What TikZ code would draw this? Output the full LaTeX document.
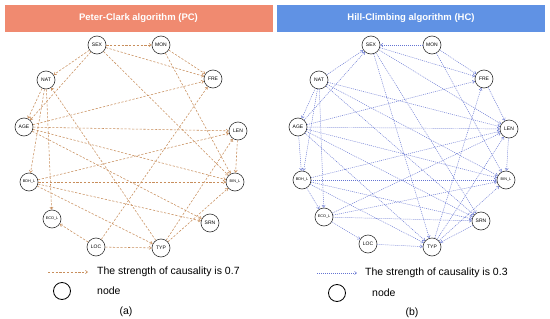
\documentclass[tikz,border=0pt]{standalone}
\usepackage{fontspec}
\setmainfont{Liberation Sans}
\usetikzlibrary{arrows.meta}
\definecolor{pchead}{RGB}{240,138,112}
\definecolor{hchead}{RGB}{96,146,228}
\definecolor{pcline}{RGB}{200,142,92}
\definecolor{hcline}{RGB}{100,116,210}
\tikzset{
  var/.style={circle,draw=black!80,line width=0.6pt,minimum size=18pt,inner sep=0pt,
              fill=white,font=\fontsize{5}{6}\selectfont},
  smallvar/.style={var,font=\fontsize{3.8}{4.5}\selectfont},
  header/.style={minimum width=268pt,minimum height=27pt,inner sep=0pt,text=white,
                 font=\fontsize{9.5}{11}\selectfont\bfseries},
  pc/.style={-{Straight Barb[length=2.2pt,width=3.2pt]},pcline,line width=0.55pt,
             dash pattern=on 2.2pt off 1.6pt},
  hc/.style={-{Straight Barb[length=2.2pt,width=3.2pt]},hcline,line width=0.45pt,
             dash pattern=on 1pt off 1pt},
  legnode/.style={circle,draw=black,line width=0.8pt,minimum size=17pt,inner sep=0pt},
  legtext/.style={anchor=west,inner sep=0pt,font=\fontsize{10.5}{12}\selectfont},
}
\begin{document}
\begin{tikzpicture}[x=1pt,y=-1pt]
  \useasboundingbox[fill=white] (0,0) rectangle (550,319);
  % Title bars
  \node[header,fill=pchead] (pctitle) at (138.5,18.5) {Peter-Clark algorithm (PC)};
  \node[header,fill=hchead] (hctitle) at (411,18.5) {Hill-Climbing algorithm (HC)};
  % PC graph nodes
  \node[var]      (pSEX) at (97,45)   {SEX};
  \node[var]      (pMON) at (161,45)  {MON};
  \node[var]      (pNAT) at (46,80)   {NAT};
  \node[var]      (pFRE) at (213,79)  {FRE};
  \node[var]      (pAGE) at (24,127)  {AGE};
  \node[var]      (pLEN) at (238,131) {LEN};
  \node[smallvar] (pBDH) at (29,182)  {BDH\_L};
  \node[smallvar] (pBIN) at (235,182) {BIN\_L};
  \node[smallvar] (pECO) at (52,219)  {ECO\_L};
  \node[var]      (pSRN) at (210,223) {SRN};
  \node[var]      (pLOC) at (96,247)  {LOC};
  \node[var]      (pTYP) at (161,248) {TYP};
  % PC edges
  \path (pSEX) edge[pc] (pMON) edge[pc] (pNAT) edge[pc] (pAGE) edge[pc] (pFRE) edge[pc] (pBIN);
  \path (pMON) edge[pc] (pFRE) edge[pc] (pBIN);
  \path (pNAT) edge[pc] (pAGE) edge[pc] (pBDH) edge[pc] (pECO);
  \path (pAGE) edge[pc] (pLEN) edge[pc] (pFRE) edge[pc] (pBIN) edge[pc] (pSRN);
  \path (pBDH) edge[pc] (pLEN) edge[pc] (pBIN) edge[pc] (pSRN) edge[pc] (pTYP);
  \path (pLOC) edge[pc] (pTYP) edge[pc] (pECO) edge[pc] (pFRE);
  \path (pTYP) edge[pc] (pNAT) edge[pc] (pBIN) edge[pc] (pLEN);
  \path (pLEN) edge[pc] (pBIN);
  % HC graph nodes
  \node[var]      (hSEX) at (371,45)  {SEX};
  \node[var]      (hMON) at (432,45)  {MON};
  \node[var]      (hNAT) at (319,80)  {NAT};
  \node[var]      (hFRE) at (484,79)  {FRE};
  \node[var]      (hAGE) at (298,127) {AGE};
  \node[var]      (hLEN) at (509,129) {LEN};
  \node[smallvar] (hBDH) at (302,180) {BDH\_L};
  \node[smallvar] (hBIN) at (506,180) {BIN\_L};
  \node[smallvar] (hECO) at (324,217) {ECO\_L};
  \node[var]      (hSRN) at (481,221) {SRN};
  \node[var]      (hLOC) at (368,244) {LOC};
  \node[var]      (hTYP) at (432,247) {TYP};
  % HC edges
  \path (hMON) edge[hc] (hSEX) edge[hc] (hFRE) edge[hc] (hBIN);
  \path (hSEX) edge[hc] (hFRE) edge[hc] (hLEN) edge[hc] (hSRN) edge[hc] (hTYP);
  \path (hNAT) edge[hc] (hSEX) edge[hc] (hAGE) edge[hc] (hBDH) edge[hc] (hECO)
               edge[hc] (hLEN) edge[hc] (hSRN) edge[hc] (hBIN);
  \path (hAGE) edge[hc] (hSEX) edge[hc] (hFRE) edge[hc] (hBDH) edge[hc] (hLEN)
               edge[hc] (hBIN) edge[hc] (hSRN) edge[hc] (hTYP);
  \path (hBDH) edge[hc] (hLEN) edge[hc] (hBIN) edge[hc] (hSRN) edge[hc] (hECO) edge[hc] (hTYP);
  \path (hECO) edge[hc] (hLOC) edge[hc] (hSRN) edge[hc] (hBIN) edge[hc] (hLEN);
  \path (hLOC) edge[hc] (hTYP);
  \path (hTYP) edge[hc] (hLEN) edge[hc] (hBIN) edge[hc] (hFRE);
  \path (hSRN) edge[hc] (hTYP);
  \path (hFRE) edge[hc] (hLEN);
  \path (hLEN) edge[hc] (hBIN);
  % Legends
  \coordinate (pcarrA) at (48,272);
  \coordinate (pcarrB) at (88,272);
  \draw[pc] (pcarrA) -- (pcarrB);
  \node[legtext] (pcstrength) at (97,272) {The strength of causality is 0.7};
  \node[legnode] (pcleg) at (62,291) {};
  \node[legtext] (pcnode) at (97,291) {node};
  \node[legtext,anchor=center] (pcsub) at (126,312) {(a)};
  \coordinate (hcarrA) at (317,273);
  \coordinate (hcarrB) at (357,273);
  \draw[hc] (hcarrA) -- (hcarrB);
  \node[legtext] (hcstrength) at (365,273) {The strength of causality is 0.3};
  \node[legnode] (hcleg) at (337,293) {};
  \node[legtext] (hcnode) at (372,293) {node};
  \node[legtext,anchor=center] (hcsub) at (412,313) {(b)};
\end{tikzpicture}
\end{document}
